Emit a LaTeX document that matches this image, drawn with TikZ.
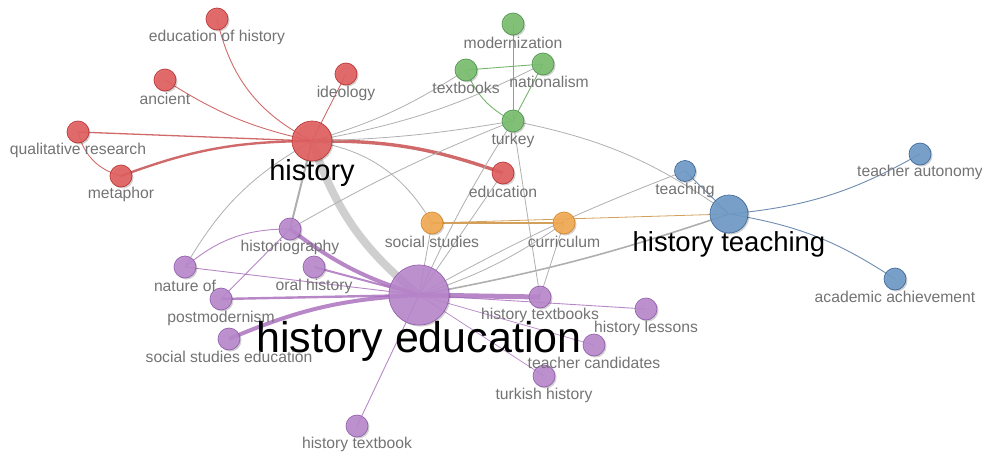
\documentclass[tikz,border=0pt]{standalone}
\usepackage{fontspec}
\setmainfont{Liberation Sans}
\usetikzlibrary{backgrounds,shadows}
\definecolor{redF}{RGB}{226,96,96}
\definecolor{redD}{RGB}{185,55,55}
\definecolor{grnF}{RGB}{122,192,112}
\definecolor{grnD}{RGB}{80,150,80}
\definecolor{bluF}{RGB}{110,155,200}
\definecolor{bluD}{RGB}{65,105,155}
\definecolor{orgF}{RGB}{244,170,82}
\definecolor{orgD}{RGB}{212,138,50}
\definecolor{purF}{RGB}{186,136,206}
\definecolor{purD}{RGB}{148,98,172}
\definecolor{labgray}{RGB}{115,115,115}
\definecolor{edgegray}{RGB}{175,175,175}
\definecolor{redE}{RGB}{200,80,80}
\definecolor{purE}{RGB}{165,105,185}
\definecolor{grnE}{RGB}{120,180,110}
\definecolor{bluE}{RGB}{110,140,175}
\definecolor{orgE}{RGB}{210,160,90}
\begin{document}
\begin{tikzpicture}[x=1pt,y=-1pt,
  kw/.style={circle,inner sep=0pt,minimum size=#1,line width=0.7pt,fill opacity=0.9,
     drop shadow={shadow xshift=1.5pt,shadow yshift=-1.5pt,opacity=0.18,fill=black}},
  kw/.default=22pt,
  rnode/.style={kw=#1,fill=redF,draw=redD},rnode/.default=22pt,
  gnode/.style={kw=#1,fill=grnF,draw=grnD},gnode/.default=22pt,
  bnode/.style={kw=#1,fill=bluF,draw=bluD},bnode/.default=22pt,
  onode/.style={kw=#1,fill=orgF,draw=orgD},onode/.default=22pt,
  pnode/.style={kw=#1,fill=purF,draw=purD},pnode/.default=22pt,
  lab/.style={font=\fontsize{15.7}{15.7}\selectfont,text=labgray,inner sep=0pt},
  biglab/.style={font=\fontsize{#1}{#1}\selectfont,text=black,inner sep=0pt},
  ge/.style={draw=edgegray,line width=0.8pt},
  re/.style={draw=redE,line width=#1,draw opacity=0.85},re/.default=0.9pt,
  pe/.style={draw=purE,line width=#1,draw opacity=0.8},pe/.default=0.9pt,
  gre/.style={draw=grnE,line width=0.9pt},
  be/.style={draw=bluE,line width=0.9pt},
  oe/.style={draw=orgE,line width=#1},oe/.default=1pt
]
\useasboundingbox (0,0) rectangle (982,458);

% ---- nodes ----
\node[rnode] (edh) at (217,19) {};
\node[rnode] (anc) at (165,80) {};
\node[rnode] (ide) at (346,74) {};
\node[rnode] (qual) at (78,132) {};
\node[rnode] (meta) at (121,176) {};
\node[rnode=40pt] (hist) at (312,141) {};
\node[rnode] (educ) at (503,173) {};
\node[gnode] (mod) at (513,24) {};
\node[gnode] (tbs) at (466,70) {};
\node[gnode] (nat) at (543,64) {};
\node[gnode] (tur) at (513,121) {};
\node[bnode=21pt] (teach) at (685,171) {};
\node[bnode] (taut) at (920,154) {};
\node[bnode=38pt] (hteach) at (729,214) {};
\node[bnode] (acad) at (895,279) {};
\node[onode] (ss) at (432,223) {};
\node[onode] (curr) at (564,223) {};
\node[pnode] (hgr) at (290,229) {};
\node[pnode] (nat2) at (185,267) {};
\node[pnode] (oral) at (314,267) {};
\node[pnode] (pomo) at (221,299) {};
\node[pnode=60pt] (hed) at (419,295) {};
\node[pnode] (sse) at (229,339) {};
\node[pnode] (htbs) at (540,297) {};
\node[pnode] (hles) at (646,309) {};
\node[pnode] (tcan) at (594,345) {};
\node[pnode] (thist) at (544,376) {};
\node[pnode] (htb) at (357,426) {};

% ---- edges ----
\begin{scope}[on background layer]
\draw[re] (hist.center) to[bend left=25] (edh.center);
\draw[re] (hist.center) to[bend left=10] (anc.center);
\draw[re] (hist.center) -- (ide.center);
\draw[re=1.3pt] (hist.center) -- (qual.center);
\draw[re=2.4pt] (hist.center) to[bend right=10] (meta.center);
\draw[re] (qual.center) to[bend right=30] (meta.center);
\draw[re=3.4pt] (hist.center) to[bend left=10] (educ.center);
\draw[draw=edgegray,line width=8pt,draw opacity=0.6] (hist.center) to[bend right=16] (hed.center);
\draw[ge] (hist.center) to[bend right=8] (tbs.center);
\draw[ge] (hist.center) to[bend right=8] (nat.center);
\draw[ge] (hist.center) to[bend right=4] (tur.center);
\draw[ge] (hist.center) to[bend left=25] (ss.center);
\draw[ge,line width=2pt] (hist.center) -- (hgr.center);
\draw[ge] (hist.center) to[bend right=15] (nat2.center);
\draw[ge] (hgr.center) to[bend left=4] (tur.center);
\draw[gre] (mod.center) -- (tur.center);
\draw[gre] (tbs.center) -- (nat.center);
\draw[gre] (nat.center) -- (tur.center);
\draw[gre] (tbs.center) to[bend right=20] (tur.center);
\draw[ge] (tur.center) to[bend right=4] (hed.center);
\draw[ge] (educ.center) -- (hed.center);
\draw[ge] (tur.center) -- (htbs.center);
\draw[ge] (tur.center) to[bend left=12] (hteach.center);
\draw[oe=1.4pt] (ss.center) -- (curr.center);
\draw[oe=0.8pt] (ss.center) -- (hteach.center);
\draw[ge] (ss.center) -- (hed.center);
\draw[ge] (curr.center) -- (htbs.center);
\draw[ge] (curr.center) to[bend left=8] (hed.center);
\draw[be] (hteach.center) -- (teach.center);
\draw[be] (hteach.center) to[bend right=12] (taut.center);
\draw[be] (hteach.center) to[bend left=12] (acad.center);
\draw[ge,line width=1.6pt] (hteach.center) to[bend left=4] (hed.center);
\draw[ge] (teach.center) to[bend right=4] (hed.center);
\draw[pe=4pt] (hed.center) to[bend left=10] (hgr.center);
\draw[pe=2pt] (hed.center) -- (oral.center);
\draw[pe] (hed.center) -- (nat2.center);
\draw[pe=2.4pt] (hed.center) -- (pomo.center);
\draw[pe=4pt] (hed.center) to[bend right=10] (sse.center);
\draw[pe=5pt] (hed.center) -- (htbs.center);
\draw[pe] (hed.center) -- (hles.center);
\draw[pe=0.7pt] (hed.center) -- (tcan.center);
\draw[pe=0.7pt] (hed.center) -- (thist.center);
\draw[pe] (hed.center) -- (htb.center);
\draw[pe] (hgr.center) to[bend right=20] (nat2.center);
\draw[pe] (hgr.center) -- (pomo.center);
\end{scope}

% ---- labels ----
\node[lab] (l-edh) at (217,37) {education of history};
\node[lab] (l-anc) at (165,99) {ancient};
\node[lab] (l-ide) at (346,93) {ideology};
\node[lab] (l-qual) at (78,150) {qualitative research};
\node[lab] (l-meta) at (121,194) {metaphor};
\node[biglab=29] (l-hist) at (312,173) {history};
\node[lab] (l-educ) at (503,192) {education};
\node[lab] (l-mod) at (513,43) {modernization};
\node[lab] (l-tbs) at (466,88) {textbooks};
\node[lab] (l-nat) at (549,82) {nationalism};
\node[lab] (l-tur) at (513,140) {turkey};
\node[lab] (l-teach) at (685,190) {teaching};
\node[lab] (l-taut) at (920,172) {teacher autonomy};
\node[biglab=27.5] (l-hteach) at (729,244) {history teaching};
\node[lab] (l-acad) at (895,297) {academic achievement};
\node[lab] (l-ss) at (432,242) {social studies};
\node[lab] (l-curr) at (564,242) {curriculum};
\node[lab] (l-hgr) at (290,247) {historiography};
\node[lab] (l-nat2) at (185,286) {nature of};
\node[lab] (l-oral) at (314,286) {oral history};
\node[lab] (l-pomo) at (221,318) {postmodernism};
\node[biglab=43] (l-hed) at (419,341) {history education};
\node[lab] (l-sse) at (229,357) {social studies education};
\node[lab] (l-htbs) at (540,315) {history textbooks};
\node[lab] (l-hles) at (646,328) {history lessons};
\node[lab] (l-tcan) at (594,363) {teacher candidates};
\node[lab] (l-thist) at (544,395) {turkish history};
\node[lab] (l-htb) at (357,444) {history textbook};
\end{tikzpicture}
\end{document}
